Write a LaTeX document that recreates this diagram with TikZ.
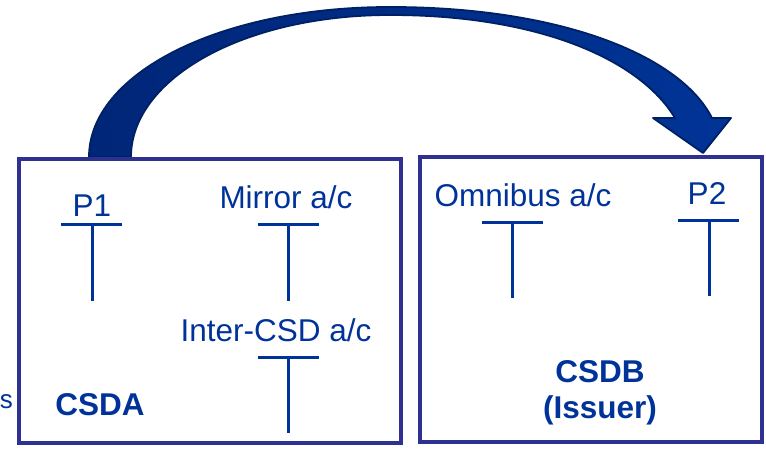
\documentclass[tikz,border=0pt]{standalone}
\usepackage{fontspec}
\setmainfont{Liberation Sans}
\definecolor{txtblue}{RGB}{0,51,153}
\definecolor{boxblue}{RGB}{46,49,146}
\definecolor{arrnavy}{RGB}{0,38,120}
\definecolor{arrblue}{RGB}{0,52,150}
\definecolor{arredge}{RGB}{0,32,100}
\begin{document}
\begin{tikzpicture}[x=1pt,y=-1pt,
  lbl/.style={anchor=base,text=txtblue,inner sep=0pt,font=\fontsize{31.5}{36}\selectfont},
  blbl/.style={lbl,font=\fontsize{31.5}{36}\selectfont\bfseries},
  tline/.style={draw=txtblue,line width=3pt},
  frame/.style={draw=boxblue,line width=4pt,fill=none,inner sep=0pt}]
\useasboundingbox (0,0) rectangle (766,449);
% big curved arrow
\path[left color=arrnavy,right color=arrblue,draw=arredge,line width=1.8pt,line join=round]
  (89,157) .. controls (89,74) and (219,7) .. (390,7)
  .. controls (560,7) and (680,55) .. (712,118)
  -- (731,118) -- (703,153) -- (653,118) -- (675,118)
  .. controls (640,60) and (540,15) .. (390,15)
  .. controls (243,15) and (131,79) .. (131,157) -- cycle;
% boxes
\node[frame,minimum width=382pt,minimum height=284pt] (csda) at (210,301) {};
\node[frame,minimum width=342pt,minimum height=285pt] (csdb) at (591,299.5) {};
% left box
\node[lbl] (p1) at (92,217) {P1};
\coordinate (p1l) at (61,225); \coordinate (p1r) at (122,225);
\coordinate (p1t) at (92,225); \coordinate (p1b) at (92,301);
\draw[tline] (p1l) -- (p1r); \draw[tline] (p1t) -- (p1b);
\node[lbl] (mir) at (286,209) {Mirror a/c};
\coordinate (mil) at (258,225); \coordinate (mir2) at (319,225);
\coordinate (mit) at (288,225); \coordinate (mib) at (288,301);
\draw[tline] (mil) -- (mir2); \draw[tline] (mit) -- (mib);
\node[lbl] (inter) at (276,341) {Inter-CSD a/c};
\coordinate (inl) at (258,357); \coordinate (inr) at (319,357);
\coordinate (int) at (288,357); \coordinate (inb) at (288,433);
\draw[tline] (inl) -- (inr); \draw[tline] (int) -- (inb);
\node[blbl] (csdalbl) at (100,415) {CSDA};
\node[lbl,anchor=base east,font=\fontsize{26}{30}\selectfont] (frag) at (13,408) {s};
% right box
\node[lbl] (omn) at (523,207) {Omnibus a/c};
\coordinate (oml) at (482,223); \coordinate (omr) at (543,223);
\coordinate (omt) at (512,223); \coordinate (omb) at (512,298);
\draw[tline] (oml) -- (omr); \draw[tline] (omt) -- (omb);
\node[lbl] (p2) at (707,205) {P2};
\coordinate (p2l) at (678,221); \coordinate (p2r) at (739,221);
\coordinate (p2t) at (709,221); \coordinate (p2b) at (709,296);
\draw[tline] (p2l) -- (p2r); \draw[tline] (p2t) -- (p2b);
\node[blbl] (csdblbl) at (600,382) {CSDB};
\node[blbl] (issuer) at (600,418) {(Issuer)};
\end{tikzpicture}
\end{document}
